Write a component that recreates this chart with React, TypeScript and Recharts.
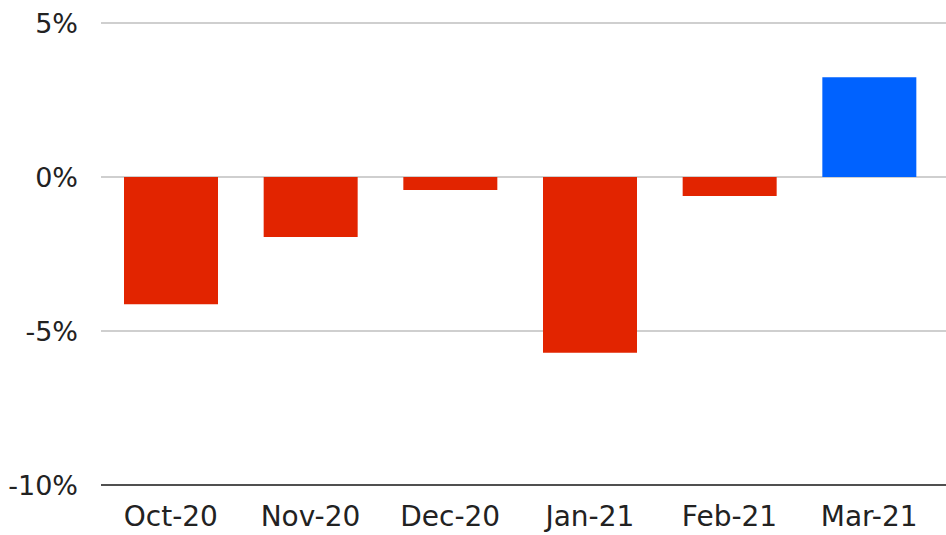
import React from 'react';
import { BarChart, Bar, XAxis, YAxis, CartesianGrid, Cell } from 'recharts';

const months = ['Oct-20', 'Nov-20', 'Dec-20', 'Jan-21', 'Feb-21', 'Mar-21'];
const changes = [-4.13, -1.95, -0.42, -5.71, -0.62, 3.24];
const yTicks = [-10, -5, 0, 5];

const data = months.map((m, i) => ({ month: m, change: changes[i] }));

const font = "'DejaVu Sans', sans-serif";

const App: React.FC = () => {
  return (
    <div style={{ position: 'absolute', left: 0, top: 0, background: '#fff' }}>
      <BarChart
        width={946}
        height={535}
        data={data}
        margin={{ top: 23, right: 0, bottom: 0, left: 0 }}
      >
        <CartesianGrid vertical={false} stroke="#bfbfbf" strokeWidth={1.5} />
        <XAxis
          dataKey="month"
          height={50}
          padding={{ left: 0, right: 7 }}
          tickLine={false}
          tickSize={0}
          tickMargin={21}
          axisLine={{ stroke: '#262626', strokeWidth: 1.5 }}
          tick={{ fill: '#222', fontSize: 28, fontFamily: font }}
        />
        <YAxis
          width={101}
          domain={[-10, 5]}
          ticks={yTicks}
          interval={0}
          tickFormatter={(v: number) => `${v}%`}
          tickLine={false}
          tickSize={0}
          tickMargin={23}
          axisLine={false}
          tick={{ fill: '#222', fontSize: 27, fontFamily: font }}
        />
        <Bar dataKey="change" barSize={94} isAnimationActive={false}>
          {data.map((d) => (
            <Cell key={d.month} fill={d.change < 0 ? '#e22400' : '#0062ff'} />
          ))}
        </Bar>
      </BarChart>
    </div>
  );
};

export default App;
